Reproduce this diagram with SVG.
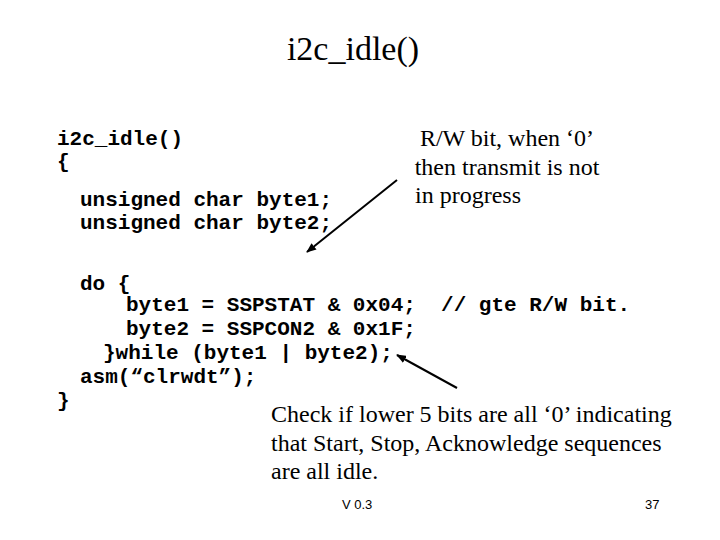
<svg xmlns="http://www.w3.org/2000/svg" width="720" height="540" viewBox="0 0 720 540">
<style>
.c{font-family:"Liberation Mono",monospace;font-size:21px;font-weight:bold;fill:#000}
.t{font-family:"Liberation Serif",serif;font-size:24px;fill:#000}
.s{font-family:"Liberation Sans",sans-serif;font-size:13px;fill:#000}
</style>
<defs><marker id="a" markerWidth="10" markerHeight="8" refX="9" refY="4" orient="auto" markerUnits="userSpaceOnUse"><path d="M0,0L10,4L0,8z" fill="#000"/></marker></defs>
<rect width="720" height="540" fill="#fff"/>
<text x="353" y="60" text-anchor="middle" font-family="Liberation Serif,serif" font-size="34">i2c_idle()</text>
<g id="code">
<text class="c" x="57" y="145" xml:space="preserve">i2c_idle()</text>
<text class="c" x="57" y="168">{</text>
<text class="c" x="80" y="206">unsigned char byte1;</text>
<text class="c" x="80" y="229">unsigned char byte2;</text>
<text class="c" x="80" y="290">do {</text>
<text class="c" x="126" y="311" xml:space="preserve">byte1 = SSPSTAT &amp; 0x04;  // gte R/W bit.</text>
<text class="c" x="126" y="335">byte2 = SSPCON2 &amp; 0x1F;</text>
<text class="c" x="103" y="359">}while (byte1 | byte2);</text>
<text class="c" x="80" y="383">asm(“clrwdt”);</text>
<text class="c" x="57" y="407">}</text>
</g>
<g id="note1">
<text class="t" x="507" y="146" text-anchor="middle">R/W bit, when ‘0’</text>
<text class="t" x="507" y="175" text-anchor="middle">then transmit is not</text>
<text class="t" x="415" y="203">in progress</text>
</g>
<g id="note2">
<text class="t" x="271" y="422">Check if lower 5 bits are all ‘0’ indicating</text>
<text class="t" x="271" y="451">that Start, Stop, Acknowledge sequences</text>
<text class="t" x="271" y="479">are all idle.</text>
</g>
<g id="connectors" stroke="#000" stroke-width="2">
<line x1="397" y1="180" x2="307" y2="252" marker-end="url(#a)"/>
<line x1="457" y1="388" x2="397" y2="355" marker-end="url(#a)"/>
</g>
<text class="s" x="342" y="509">V 0.3</text>
<text class="s" x="645" y="509">37</text>
</svg>
